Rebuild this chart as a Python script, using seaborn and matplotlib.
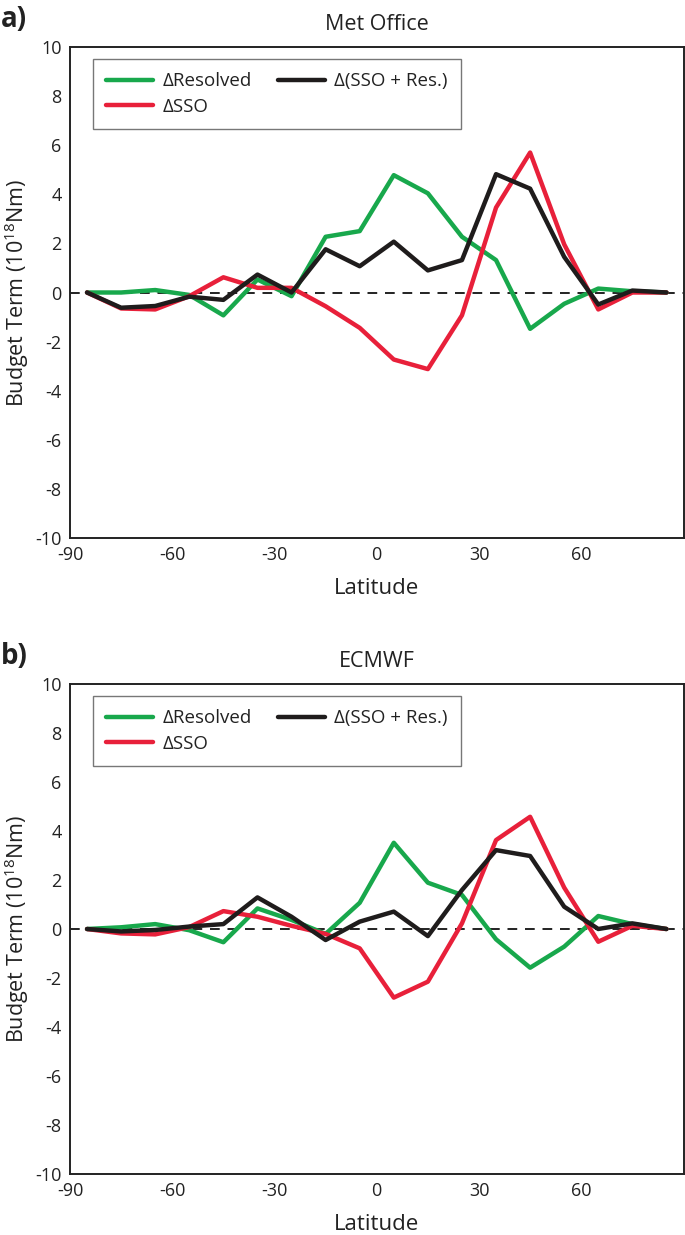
# Import libraries
import pandas as pd
import numpy as np
import matplotlib.pyplot as plt
import seaborn as sns

# Latitude bands (centres of 10-degree bins)
latitude = [-85, -75, -65, -55, -45, -35, -25, -15, -5, 5, 15, 25, 35, 45, 55, 65, 75, 85]

# Met Office budget terms (10^18 Nm)
mo_resolved = [0.0, 0.0, 0.1, -0.1, -0.93, 0.53, -0.15, 2.27, 2.5, 4.78, 4.04, 2.27, 1.32, -1.48, -0.46, 0.16, 0.05, 0.0]
mo_sso = [0.0, -0.65, -0.69, -0.15, 0.62, 0.19, 0.19, -0.56, -1.44, -2.73, -3.12, -0.93, 3.46, 5.7, 1.96, -0.69, 0.0, 0.0]
mo_total = [0.0, -0.62, -0.55, -0.17, -0.3, 0.73, 0.0, 1.76, 1.07, 2.07, 0.9, 1.32, 4.82, 4.23, 1.45, -0.49, 0.08, 0.0]

# ECMWF budget terms (10^18 Nm)
ec_resolved = [0.0, 0.07, 0.2, -0.05, -0.54, 0.84, 0.37, -0.2, 1.07, 3.52, 1.89, 1.39, -0.42, -1.58, -0.72, 0.53, 0.2, 0.0]
ec_sso = [0.0, -0.18, -0.22, 0.08, 0.73, 0.5, 0.13, -0.2, -0.79, -2.8, -2.15, 0.23, 3.63, 4.58, 1.69, -0.52, 0.13, 0.0]
ec_total = [0.0, -0.1, -0.04, 0.1, 0.2, 1.29, 0.5, -0.45, 0.3, 0.71, -0.29, 1.59, 3.22, 2.98, 0.91, 0.0, 0.23, 0.0]

series_names = ['\u0394Resolved', '\u0394SSO', '\u0394(SSO + Res.)']
series_colors = ['#18a84c', '#e8203a', '#1f1c1c']

# Set the theme, then the fonts
sns.set_theme(style='white')
plt.rcParams['font.family'] = ['Open Sans', 'DejaVu Sans']
plt.rcParams['axes.unicode_minus'] = False
plt.rcParams['mathtext.fontset'] = 'custom'
plt.rcParams['mathtext.rm'] = 'Open Sans'
plt.rcParams['mathtext.it'] = 'Open Sans'
plt.rcParams['mathtext.default'] = 'regular'

fig = plt.figure(figsize=(6.85, 12.35), dpi=100)
ax_a = fig.add_axes([70 / 685, 1 - 538 / 1235, 613.5 / 685, 491 / 1235])
ax_b = fig.add_axes([70 / 685, 1 - 1174 / 1235, 613.5 / 685, 490 / 1235])

panels = [
    (ax_a, 'Met Office', 'a)', [mo_resolved, mo_sso, mo_total]),
    (ax_b, 'ECMWF', 'b)', [ec_resolved, ec_sso, ec_total]),
]

for ax, title, tag, values in panels:
    # Long-form table for seaborn
    df = pd.DataFrame({
        'Latitude': latitude * 3,
        'Value': values[0] + values[1] + values[2],
        'Term': np.repeat(series_names, len(latitude)),
    })

    # Zero reference line
    ax.axhline(0, color='#222222', lw=1.4, ls=(0, (5, 4)), zorder=1)

    sns.lineplot(data=df, x='Latitude', y='Value', hue='Term', hue_order=series_names,
                 palette=series_colors, lw=3.2, ax=ax, legend=False, zorder=3)

    # Axis limits and ticks
    ax.set_xlim(-90, 90)
    ax.set_ylim(-10, 10)
    ax.set_xticks([-90, -60, -30, 0, 30, 60, 90])
    ax.set_xticklabels(['-90', '-60', '-30', '0', '30', '60', ''])
    ax.set_yticks(np.arange(-10, 11, 2))
    ax.tick_params(direction='in', length=9, width=1.2, colors='#222222', labelsize=13,
                   labelcolor='#222222', pad=6)
    for s in ax.spines.values():
        s.set_color('#222222')
        s.set_linewidth(1.4)

    ax.set_xlabel('Latitude', fontsize=16, color='#222222', labelpad=10)
    ax.set_ylabel('Budget Term (10$^{18}$Nm)', fontsize=15.5, color='#222222')
    ax.yaxis.set_label_coords(-0.064, 0.5)
    ax.set_title(title, fontsize=15.5, color='#222222', pad=12)

    # Panel tag
    pos = ax.get_position()
    fig.text(0.002, pos.y1 + 0.022, tag, fontsize=20, fontweight='bold', color='#222222', va='center')

    # Legend
    handles = [plt.Line2D([], [], color=c, lw=3.2) for c in series_colors]
    leg = ax.legend(handles, series_names, ncol=2, loc='upper left', bbox_to_anchor=(0.038, 0.975),
                    fontsize=13.5, frameon=True, fancybox=False, handlelength=2.5, handletextpad=0.5,
                    columnspacing=1.4, borderpad=0.7, labelspacing=0.4, borderaxespad=0)
    leg.get_frame().set_edgecolor('#555555')
    leg.get_frame().set_linewidth(1.0)
    for t in leg.get_texts():
        t.set_color('#222222')

# Save the figure
fig.savefig('out.png', dpi=100)
